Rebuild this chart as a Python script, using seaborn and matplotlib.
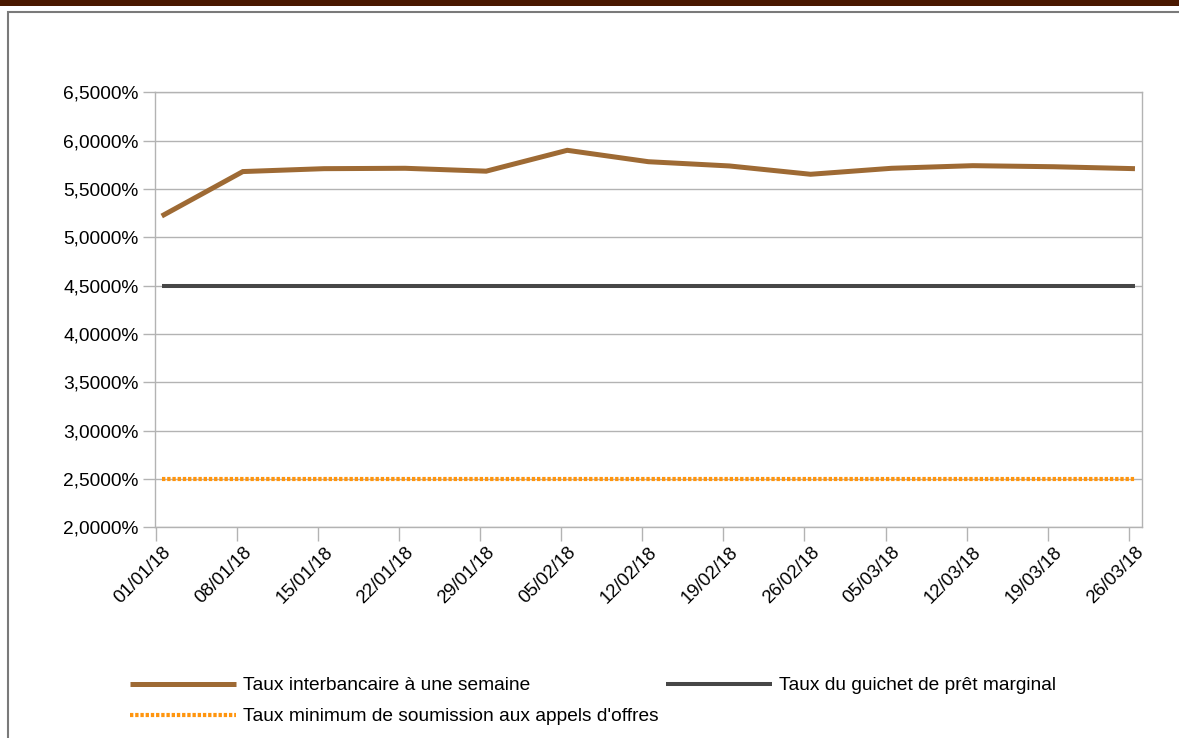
import matplotlib
matplotlib.use("Agg")
import matplotlib.pyplot as plt
import matplotlib.patches as mpatches
import matplotlib.ticker as mticker
import seaborn as sns
import numpy as np
import pandas as pd

# données
dates = ["01/01/18", "08/01/18", "15/01/18", "22/01/18", "29/01/18", "05/02/18",
         "12/02/18", "19/02/18", "26/02/18", "05/03/18", "12/03/18", "19/03/18", "26/03/18"]
taux_interbancaire = [5.22, 5.68, 5.71, 5.714, 5.684, 5.90, 5.782, 5.738, 5.652,
                      5.714, 5.741, 5.73, 5.71]
taux_guichet = [4.50] * 13
taux_minimum = [2.50] * 13

lbl_inter = "Taux interbancaire à une semaine"
lbl_guichet = "Taux du guichet de prêt marginal"
lbl_min = "Taux minimum de soumission aux appels d'offres"

sns.set_theme(style="white")
plt.rcParams['font.family'] = ['Liberation Sans', 'DejaVu Sans']
FS = 13.8

pos = np.arange(len(dates))
df = pd.DataFrame({"pos": pos, "inter": taux_interbancaire,
                   "guichet": taux_guichet, "min": taux_minimum})

fig = plt.figure(figsize=(11.79, 7.38), dpi=100)
ax = fig.add_axes([155 / 1179, 1 - 527.3 / 738, (1141.7 - 155) / 1179, (527.3 - 92.3) / 738])

# bandeau du haut et cadre
fig.patches.append(mpatches.Rectangle((0, 1 - 6 / 738), 1, 6 / 738, transform=fig.transFigure,
                                      facecolor="#4a1800", edgecolor="none"))
fig.patches.append(mpatches.Rectangle((8 / 1179, -0.1), 1.2, 1.1 - 12 / 738, transform=fig.transFigure,
                                      facecolor="none", edgecolor="#7a7a7a", linewidth=1.5))

sns.lineplot(data=df, x="pos", y="inter", ax=ax, color="#9e6a34", linewidth=3.6,
             label=lbl_inter, solid_joinstyle="miter", solid_capstyle="butt")
sns.lineplot(data=df, x="pos", y="guichet", ax=ax, color="#474747", linewidth=2.9,
             label=lbl_guichet, solid_capstyle="butt")
sns.lineplot(data=df, x="pos", y="min", ax=ax, color="#ff950e", linewidth=3.0,
             label=lbl_min, linestyle=(0, (0.8, 0.45)), dash_capstyle="butt")

ax.set_xlim(-0.083, 12.083)
ax.set_ylim(2.0, 6.5)
ax.yaxis.set_major_locator(mticker.MultipleLocator(0.5))
ax.yaxis.set_major_formatter(mticker.FuncFormatter(lambda v, p: f"{v:.4f}".replace(".", ",") + "%"))
ax.grid(axis="y", color="#b3b3b3", linewidth=1)
ax.set_axisbelow(True)

ax.set_xticks(pos)
ax.set_xticklabels(dates, rotation=45, ha="right", va="top", rotation_mode="anchor")
ax.set_xticks(pos - 0.075, minor=True)
ax.tick_params(axis="x", which="major", bottom=True, length=0, pad=12, labelsize=13.4, colors="black")
ax.tick_params(axis="x", which="minor", bottom=True, length=10, width=1, color="#b3b3b3", direction="out")
ax.tick_params(axis="y", left=True, length=9, width=1, color="#b3b3b3", labelsize=FS, pad=3,
               labelcolor="black", direction="out")
ax.set_xlabel("")
ax.set_ylabel("")
for s in ax.spines.values():
    s.set_color("#b3b3b3")
    s.set_linewidth(1)

h, l = ax.get_legend_handles_labels()
order = [0, 2, 1]
leg = ax.legend([h[i] for i in order], [l[i] for i in order], ncol=2, loc="upper left",
                bbox_to_anchor=(130 / 1179, 1 - 677 / 738), bbox_transform=fig.transFigure,
                frameon=False, fontsize=FS, handlelength=5.55, handletextpad=0.36,
                columnspacing=0.36, labelspacing=0.7, borderaxespad=0, borderpad=0)
for t in leg.get_texts():
    t.set_color("black")

fig.savefig("out.png", dpi=100)
